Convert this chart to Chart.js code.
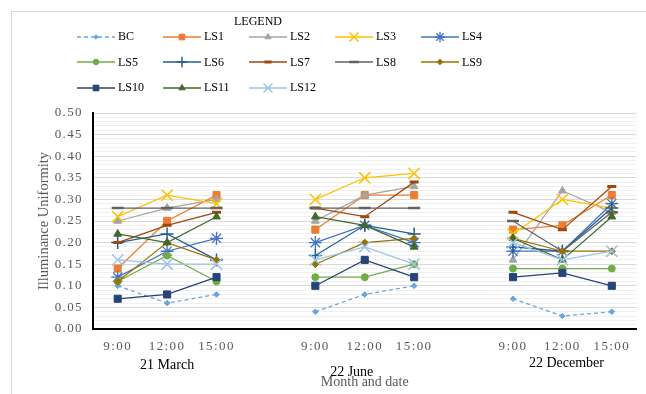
<!DOCTYPE html>
<html>
<head>
<meta charset="utf-8">
<script src="https://cdn.jsdelivr.net/npm/chart.js@4/dist/chart.umd.min.js"></script>
<style>
  html, body { margin: 0; padding: 0; background: #fff; overflow: hidden; }
  #wrap { position: relative; width: 646px; height: 394px; }
  #frame { position: absolute; left: 11px; top: 11px; width: 700px; height: 500px; border: 1px solid #d9d9d9; }
  #chart { position: absolute; left: 0; top: 0; }
  #legend-title { position: absolute; top: 14px; left: 0; width: 516px; text-align: center;
    font: 12px 'Liberation Serif'; color: #000; }
  #legend { position: absolute; left: 77px; top: 24px; display: grid;
    grid-template-columns: repeat(5, 86px); grid-auto-rows: 25.5px;
    font: 12px 'Liberation Serif'; color: #000; }
  .item { display: flex; align-items: center; }
  .item canvas { width: 38px; height: 16px; margin-right: 3px; }
</style>
</head>
<body>
<div id="wrap">
  <div id="frame"></div>
  <canvas id="chart" width="646" height="394"></canvas>
  <div id="legend-title">LEGEND</div>
  <div id="legend"></div>
</div>
<script>
// Illuminance uniformity per light shelf (BC = base case), 3 dates x 3 hours
const hours = ['9:00', '12:00', '15:00'];
const dates = ['21 March', '22 June', '22 December'];
const seriesNames = ['BC', 'LS1', 'LS2', 'LS3', 'LS4', 'LS5', 'LS6', 'LS7', 'LS8', 'LS9', 'LS10', 'LS11', 'LS12'];

// values: March 9/12/15, June 9/12/15, December 9/12/15
const BC   = [0.10, 0.06, 0.08, 0.04, 0.08, 0.10, 0.07, 0.03, 0.04];
const LS1  = [0.14, 0.25, 0.31, 0.23, 0.31, 0.31, 0.23, 0.24, 0.31];
const LS2  = [0.25, 0.28, 0.30, 0.25, 0.31, 0.33, 0.16, 0.32, 0.27];
const LS3  = [0.26, 0.31, 0.29, 0.30, 0.35, 0.36, 0.22, 0.30, 0.28];
const LS4  = [0.12, 0.18, 0.21, 0.20, 0.24, 0.20, 0.18, 0.18, 0.29];
const LS5  = [0.11, 0.17, 0.11, 0.12, 0.12, 0.15, 0.14, 0.14, 0.14];
const LS6  = [0.20, 0.22, 0.16, 0.17, 0.24, 0.22, 0.19, 0.18, 0.28];
const LS7  = [0.20, 0.24, 0.27, 0.28, 0.26, 0.34, 0.27, 0.23, 0.33];
const LS8  = [0.28, 0.28, 0.28, 0.28, 0.28, 0.28, 0.25, 0.18, 0.27];
const LS9  = [0.11, 0.20, 0.16, 0.15, 0.20, 0.21, 0.21, 0.18, 0.18];
const LS10 = [0.07, 0.08, 0.12, 0.10, 0.16, 0.12, 0.12, 0.13, 0.10];
const LS11 = [0.22, 0.20, 0.26, 0.26, 0.24, 0.19, 0.21, 0.16, 0.26];
const LS12 = [0.16, 0.15, 0.15, 0.16, 0.19, 0.15, 0.20, 0.16, 0.18];
const seriesValues = [BC, LS1, LS2, LS3, LS4, LS5, LS6, LS7, LS8, LS9, LS10, LS11, LS12];

// look of each series (Excel-like palette and markers)
const STYLES = [
  { color: '#6aa5da', point: 'rectRot',  r: 2.8, pw: 1,   dash: [4, 3] },
  { color: '#ed7d31', point: 'rect',     r: 5,   pw: 1 },
  { color: '#a5a5a5', point: 'triangle', r: 4.5, pw: 1 },
  { color: '#ffc000', point: 'crossRot', r: 8,   pw: 1.5 },
  { color: '#4472c4', point: 'star',     r: 6.5, pw: 1.3 },
  { color: '#70ad47', point: 'circle',   r: 3.5, pw: 1 },
  { color: '#255e91', point: 'cross',    r: 6.5, pw: 1.5 },
  { color: '#9e480e', point: 'line',     r: 4.5, pw: 3 },
  { color: '#636363', point: 'line',     r: 6,   pw: 2.5 },
  { color: '#997300', point: 'rectRot',  r: 3.5, pw: 1 },
  { color: '#264478', point: 'rect',     r: 5,   pw: 1 },
  { color: '#43682b', point: 'triangle', r: 4.5, pw: 1 },
  { color: '#9dc3e6', point: 'crossRot', r: 8,   pw: 1.5 }
];

// one empty category between dates so the groups stand apart
const labels = [];
dates.forEach((d, i) => {
  if (i > 0) labels.push('');
  labels.push(...hours);
});
const withGaps = vals => {
  const out = [];
  vals.forEach((v, i) => {
    if (i > 0 && i % hours.length === 0) out.push(null);
    out.push(v);
  });
  return out;
};

const FONT = 'Liberation Serif';
const GREY = '#595959';

// tick text in the source is slightly spaced out; dates sit under each group
const axisExtras = {
  id: 'axisExtras',
  beforeDraw(chart) { chart.ctx.letterSpacing = '0px'; },
  afterDatasetsDraw(chart) { chart.ctx.letterSpacing = '1.4px'; },
  afterDraw(chart) {
    const ctx = chart.ctx;
    const x = chart.scales.x;
    ctx.save();
    ctx.letterSpacing = '0px';
    ctx.font = `14px '${FONT}'`;
    ctx.fillStyle = '#000';
    ctx.textAlign = 'center';
    ctx.textBaseline = 'middle';
    const shift = [[0, 36], [-13, 43], [4, 34]];
    dates.forEach((d, i) => {
      const px = x.getPixelForValue(i * (hours.length + 1) + 1);
      ctx.fillText(d, px + shift[i][0], x.top + shift[i][1]);
    });
    ctx.restore();
  }
};

new Chart(document.getElementById('chart'), {
  type: 'line',
  data: {
    labels,
    datasets: seriesNames.map((name, i) => {
      const s = STYLES[i];
      return {
        label: name,
        data: withGaps(seriesValues[i]),
        borderColor: s.color,
        backgroundColor: s.color,
        borderWidth: 1.25,
        borderDash: s.dash || [],
        pointStyle: s.point,
        pointRadius: s.r,
        pointBorderWidth: s.pw,
        pointBackgroundColor: s.color,
        pointBorderColor: s.color,
        tension: 0,
        order: seriesNames.length - i
      };
    })
  },
  options: {
    responsive: false,
    animation: false,
    layout: { padding: { top: 113, left: 26, right: 6, bottom: 0 } },
    plugins: { legend: { display: false }, tooltip: { enabled: false } },
    scales: {
      x: {
        offset: true,
        afterFit: s => { s.height = 65; },
        grid: { display: false },
        border: { color: '#000', width: 2 },
        ticks: { z: 1, autoSkip: false, maxRotation: 0, padding: 2, color: GREY,
          font: { family: FONT, size: 13 } },
        title: { display: true, text: 'Month and date', color: GREY,
          font: { family: FONT, size: 14 }, padding: { top: 0, bottom: 3 } }
      },
      y: {
        min: 0,
        max: 0.5,
        afterFit: s => { s.width = 67; },
        border: { color: '#000', width: 2 },
        grid: { drawTicks: false, lineWidth: 1,
          color: c => c.index % 5 === 0 ? '#d9d9d9' : '#f0f0f0' },
        ticks: { z: 1, stepSize: 0.01, autoSkip: false, padding: 10, color: GREY,
          font: { family: FONT, size: 13 },
          callback: (v, i) => i % 5 === 0 ? v.toFixed(2) : '' },
        title: { display: true, text: 'Illuminance Uniformity', color: GREY,
          font: { family: FONT, size: 14.5 }, padding: { top: 9, bottom: 0 } }
      }
    }
  },
  plugins: [axisExtras]
});

// legend: fixed 5-column grid like the source, sample line + marker drawn per series
const legend = document.getElementById('legend');
seriesNames.forEach((name, i) => {
  const s = STYLES[i];
  const item = document.createElement('div');
  item.className = 'item';
  const cv = document.createElement('canvas');
  cv.width = 38; cv.height = 16;
  const ctx = cv.getContext('2d');
  ctx.strokeStyle = s.color;
  ctx.fillStyle = s.color;
  ctx.lineWidth = 1.5;
  ctx.setLineDash(s.dash || []);
  ctx.beginPath(); ctx.moveTo(0, 8); ctx.lineTo(38, 8); ctx.stroke();
  ctx.setLineDash([]);
  ctx.lineWidth = s.pw;
  Chart.helpers.drawPoint(ctx, { pointStyle: s.point, radius: s.r * 0.8, borderWidth: s.pw, rotation: 0 }, 19, 8);
  const txt = document.createElement('span');
  txt.textContent = name;
  item.append(cv, txt);
  legend.appendChild(item);
});
</script>
</body>
</html>
